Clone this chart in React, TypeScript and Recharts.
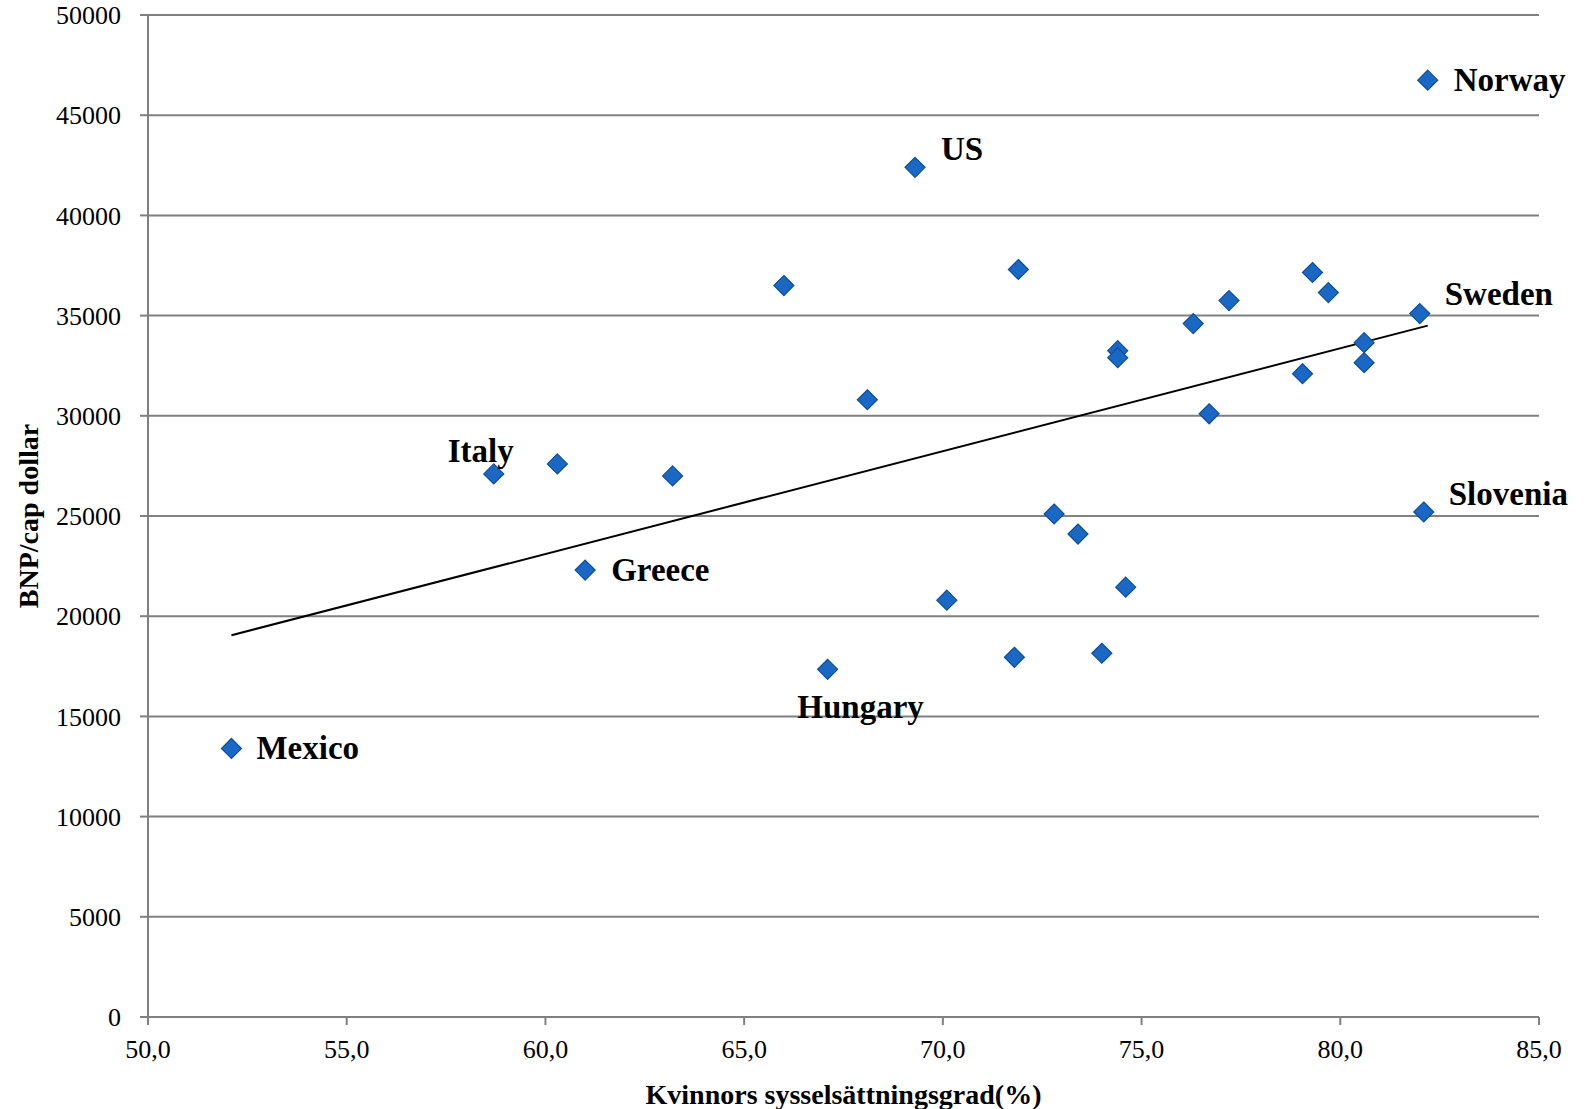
import { ScatterChart, Scatter, XAxis, YAxis, CartesianGrid, ReferenceLine, Label } from 'recharts'

// Kvinnors sysselsättningsgrad (%) per land
const employment = [
  52.1, 58.7, 60.3, 61.0, 63.2, 66.0, 67.1, 68.1, 69.3, 70.1,
  71.8, 71.9, 72.8, 73.4, 74.0, 74.4, 74.4, 74.6, 76.3, 76.7,
  77.2, 79.05, 79.3, 79.7, 80.6, 80.6, 82.0, 82.1, 82.2,
]
// BNP/cap dollar
const gdp = [
  13400, 27100, 27600, 22300, 27000, 36500, 17350, 30800, 42400, 20800,
  17950, 37300, 25100, 24100, 18150, 33250, 32900, 21450, 34600, 30100,
  35750, 32100, 37150, 36150, 33650, 32650, 35100, 25200, 46750,
]
const names = [
  'Mexico', 'Italy', '', 'Greece', '', '', 'Hungary', '', 'US', '',
  '', '', '', '', '', '', '', '', '', '',
  '', '', '', '', '', '', 'Sweden', 'Slovenia', 'Norway',
]

const trendStart = { x: 52.1, y: 19050 }
const trendEnd = { x: 82.2, y: 34500 }

const xTicks = [50, 55, 60, 65, 70, 75, 80, 85]
const yTicks = [0, 5000, 10000, 15000, 20000, 25000, 30000, 35000, 40000, 45000, 50000]

const data = employment.map((x, i) => ({ x, y: gdp[i], name: names[i] }))

const FONT = "'Liberation Serif', 'DejaVu Serif', serif"

// where each country name sits relative to its marker
const labelPos: Record<string, { dx: number; dy: number; anchor: 'start' | 'middle' }> = {
  Norway: { dx: 26, dy: 0, anchor: 'start' },
  US: { dx: 26, dy: -18, anchor: 'start' },
  Sweden: { dx: 25, dy: -20, anchor: 'start' },
  Italy: { dx: -13, dy: -23, anchor: 'middle' },
  Slovenia: { dx: 25, dy: -18, anchor: 'start' },
  Greece: { dx: 26, dy: 0, anchor: 'start' },
  Hungary: { dx: 33, dy: 38, anchor: 'middle' },
  Mexico: { dx: 25, dy: 0, anchor: 'start' },
}

function Marker(props: any) {
  const { cx, cy, payload } = props
  const r = 10
  const pos = payload?.name ? labelPos[payload.name] : undefined
  return (
    <g>
      <polygon
        points={`${cx},${cy - r} ${cx + r},${cy} ${cx},${cy + r} ${cx - r},${cy}`}
        fill="#1a68c4"
        stroke="#0d4f9c"
        strokeWidth={1.2}
      />
      {pos && (
        <text
          x={cx + pos.dx}
          y={cy + pos.dy}
          textAnchor={pos.anchor}
          dominantBaseline="central"
          fontFamily={FONT}
          fontWeight="bold"
          fontSize={33}
          fill="#000"
        >
          {payload.name}
        </text>
      )}
    </g>
  )
}

export default function App() {
  return (
    <div style={{ position: 'absolute', left: 0, top: 0, width: 1585, height: 1109, background: '#fff' }}>
      <ScatterChart width={1585} height={1109} margin={{ top: 15, right: 46, bottom: 0, left: 0 }}>
        <CartesianGrid vertical={false} stroke="#808080" strokeWidth={2} />
        <XAxis
          type="number"
          dataKey="x"
          domain={[50, 85]}
          ticks={xTicks}
          tickFormatter={(v: number) => v.toFixed(1).replace('.', ',')}
          height={92}
          stroke="#808080"
          strokeWidth={2}
          tickSize={8}
          tickMargin={15}
          tick={{ fill: '#000', fontSize: 26, fontFamily: FONT }}
        >
          <Label
            value="Kvinnors sysselsättningsgrad(%)"
            position="insideBottom"
            offset={5}
            style={{ fill: '#000', fontSize: 28, fontWeight: 'bold', fontFamily: FONT }}
          />
        </XAxis>
        <YAxis
          type="number"
          dataKey="y"
          domain={[0, 50000]}
          ticks={yTicks}
          width={148}
          stroke="#808080"
          strokeWidth={2}
          tickSize={8}
          tickMargin={19}
          tick={{ fill: '#000', fontSize: 26, fontFamily: FONT }}
        >
          <Label
            value="BNP/cap dollar"
            angle={-90}
            position="insideLeft"
            offset={28}
            style={{ textAnchor: 'middle', fill: '#000', fontSize: 28, fontWeight: 'bold', fontFamily: FONT }}
          />
        </YAxis>
        <Scatter data={data} shape={<Marker />} isAnimationActive={false} />
        <ReferenceLine segment={[trendStart, trendEnd]} stroke="#000" strokeWidth={2} />
      </ScatterChart>
    </div>
  )
}
